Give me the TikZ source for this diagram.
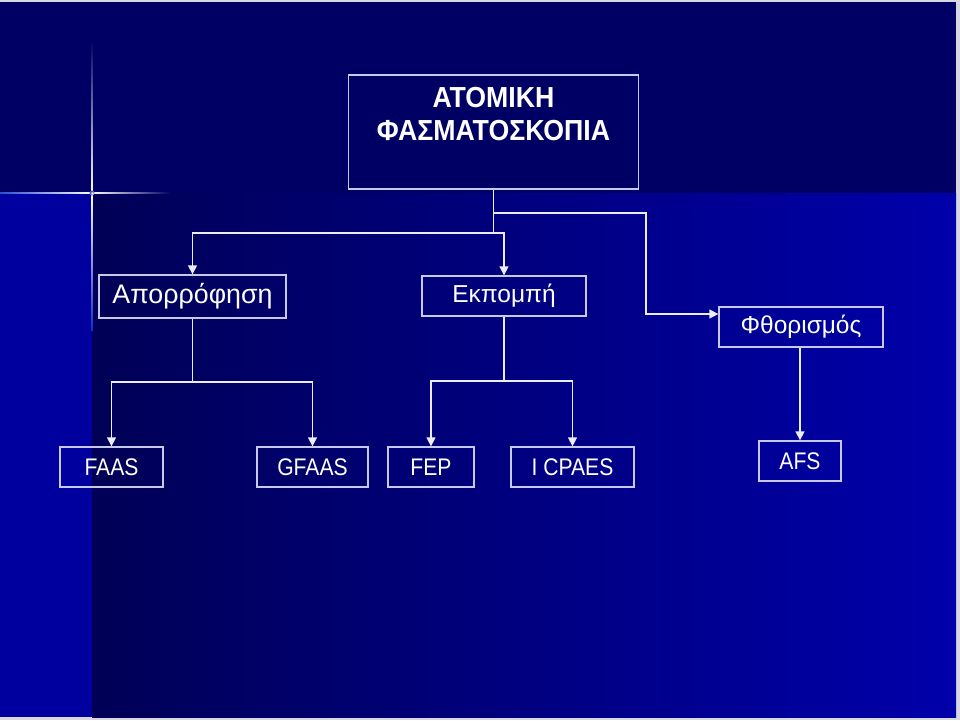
\documentclass[tikz,border=0pt]{standalone}
\usepackage{fontspec}
\setmainfont{Liberation Sans}
\newfontfamily\narrowsans[FakeStretch=0.88]{Liberation Sans}
\newfontfamily\narrowbold[FakeStretch=0.92]{Liberation Sans Bold}
\usepackage{xcolor}
\usetikzlibrary{arrows.meta, calc}
\definecolor{slidenavy}{RGB}{0,0,100}
\definecolor{stripblue}{RGB}{0,0,158}
\definecolor{bandleft}{RGB}{0,0,86}
\definecolor{bandright}{RGB}{0,0,170}
\definecolor{boxline}{RGB}{200,200,235}
\definecolor{wireline}{RGB}{235,235,250}
\definecolor{flareblue}{RGB}{60,110,255}
\definecolor{slideedge}{RGB}{215,215,228}

\begin{document}
\begin{tikzpicture}[
    x=1pt, y=-1pt,
    >={Triangle[length=9pt, width=9pt]},
    box/.style={draw=boxline, line width=1.3pt, rectangle, inner sep=0pt, text=white, minimum height=40pt},
    grbox/.style={box, font=\fontsize{24.5}{30}\selectfont},
    latbox/.style={box, font=\narrowsans\fontsize{24}{28}\selectfont},
    wire/.style={color=wireline, line width=1.3pt},
    arr/.style={wire, ->}
]
\useasboundingbox (0,0) rectangle (960,720);

\fill[slideedge] (0,0) rectangle (960,720);
\fill[slidenavy] (0,2) rectangle (956,193);
\shade[left color=bandleft, right color=bandright] (92,193) rectangle (956,717);
\fill[stripblue] (0,193) rectangle (92,717);

\shade[top color=slidenavy, bottom color=white] (91.2,40) rectangle (92.8,193);
\shade[top color=white, bottom color=flareblue!40!stripblue] (91.2,193) rectangle (92.8,330);
\shade[left color=flareblue!70!slidenavy, right color=white] (0,192.2) rectangle (92,193.8);
\shade[left color=white, right color=slidenavy] (92,192.2) rectangle (170,193.8);
\shade[inner color=white, outer color=flareblue!60!slidenavy] (92,193) circle (2.5);

\node[box, minimum width=290pt, minimum height=114pt] (title) at (493.5,132) {};
\node[anchor=north, inner sep=0pt, align=center, text=white, font=\narrowbold\fontsize{29}{33}\selectfont] (titletext) at (493.5,87) {ΑΤΟΜΙΚΗ\\ΦΑΣΜΑΤΟΣΚΟΠΙΑ};

\node[grbox, minimum width=187pt, minimum height=43pt, font=\fontsize{26.8}{32}\selectfont] (absorb) at (192.5,296.5) {Απορρόφηση};
\node[grbox, minimum width=164pt] (emit) at (504,296) {Εκπομπή};
\node[grbox, minimum width=164pt] (fluor) at (801,327) {Φθορισμός};

\node[latbox, minimum width=103pt] (faas) at (111.5,467) {FAAS};
\node[latbox, minimum width=111pt] (gfaas) at (312.5,467) {GFAAS};
\node[latbox, minimum width=86pt] (fep) at (431,467) {FEP};
\node[latbox, minimum width=123pt] (icpaes) at (572.5,467) {I CPAES};
\node[latbox, minimum width=82pt] (afs) at (800,461) {AFS};

\coordinate (titlesplit) at (493.5,233);
\coordinate (fluorsplit) at (493.5,213);
\coordinate (fluorbend) at (646,213);
\coordinate (absorbsplit) at (192.5,382);
\coordinate (emitsplit) at (504,381);

\draw[wire] (title.south) -- (titlesplit);
\draw[arr] (titlesplit) -| (absorb.north);
\draw[arr] (titlesplit) -| (emit.north);
\draw[arr] (fluorsplit) -- (fluorbend) |- ([yshift=13pt]fluor.west);

\draw[wire] (absorb.south) -- (absorbsplit);
\draw[arr] (absorbsplit) -| (faas.north);
\draw[arr] (absorbsplit) -| (gfaas.north);

\draw[wire] (emit.south) -- (emitsplit);
\draw[arr] (emitsplit) -| (fep.north);
\draw[arr] (emitsplit) -| (icpaes.north);

\draw[arr] (fluor.south -| afs.north) -- (afs.north);

\end{tikzpicture}
\end{document}
